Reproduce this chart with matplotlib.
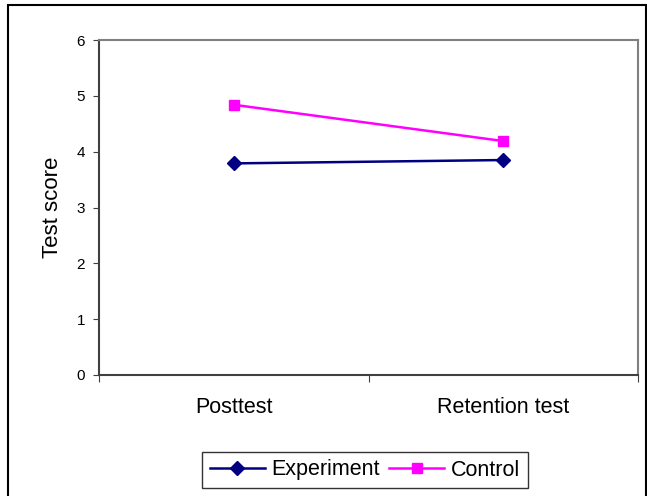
import matplotlib
matplotlib.use("Agg")
import matplotlib.pyplot as plt
from matplotlib.patches import Rectangle

plt.rcParams['font.family'] = ['Liberation Sans', 'DejaVu Sans']

# data
categories = ["Posttest", "Retention test"]
experiment = [3.79, 3.85]
control = [4.84, 4.19]
y_ticks = [0, 1, 2, 3, 4, 5, 6]

fig = plt.figure(figsize=(6.47, 4.96), dpi=100)

# outer frame of the chart area
fig.patches.append(Rectangle((8 / 647, -0.01), 638 / 647, 1 - 5 / 496 + 0.01,
                             transform=fig.transFigure, fill=False,
                             edgecolor='black', linewidth=1.5))

ax = fig.add_axes([99 / 647, 1 - 375 / 496, (638 - 99) / 647, (375 - 40) / 496])

x = [0.5, 1.5]
ax.plot(x, experiment, color='#000080', marker='D', markersize=7, linewidth=1.8,
        label='Experiment')
ax.plot(x, control, color='#FF00FF', marker='s', markersize=7.5, linewidth=1.8,
        label='Control')

ax.set_xlim(0, 2)
ax.set_ylim(0, 6)
ax.set_yticks(y_ticks)
ax.set_yticklabels([str(t) for t in y_ticks], fontsize=11)
ax.set_xticks([0, 1, 2])
ax.set_xticklabels([])
ax.set_xticks(x, minor=True)
ax.set_xticklabels(categories, minor=True, fontsize=15.5)
ax.tick_params(axis='x', which='minor', length=0, pad=16)
ax.tick_params(axis='x', which='major', length=5, color='#404040', direction='out')
ax.tick_params(axis='y', length=4, color='#404040', direction='out', pad=6)

for side in ['left', 'bottom']:
    ax.spines[side].set_color('#404040')
    ax.spines[side].set_linewidth(1.5)
for side in ['top', 'right']:
    ax.spines[side].set_color('#808080')
    ax.spines[side].set_linewidth(1.5)

ax.set_ylabel("Test score", fontsize=16, labelpad=10)

leg = fig.legend(loc='center', bbox_to_anchor=(365 / 647, 1 - 470 / 496), ncol=2,
                 fontsize=15.5, frameon=True, fancybox=False, edgecolor='black',
                 handlelength=2.55, columnspacing=0.45, handletextpad=0.3,
                 borderpad=0.35, borderaxespad=0)
leg.get_frame().set_linewidth(1.0)

fig.savefig("out.png", dpi=100)
